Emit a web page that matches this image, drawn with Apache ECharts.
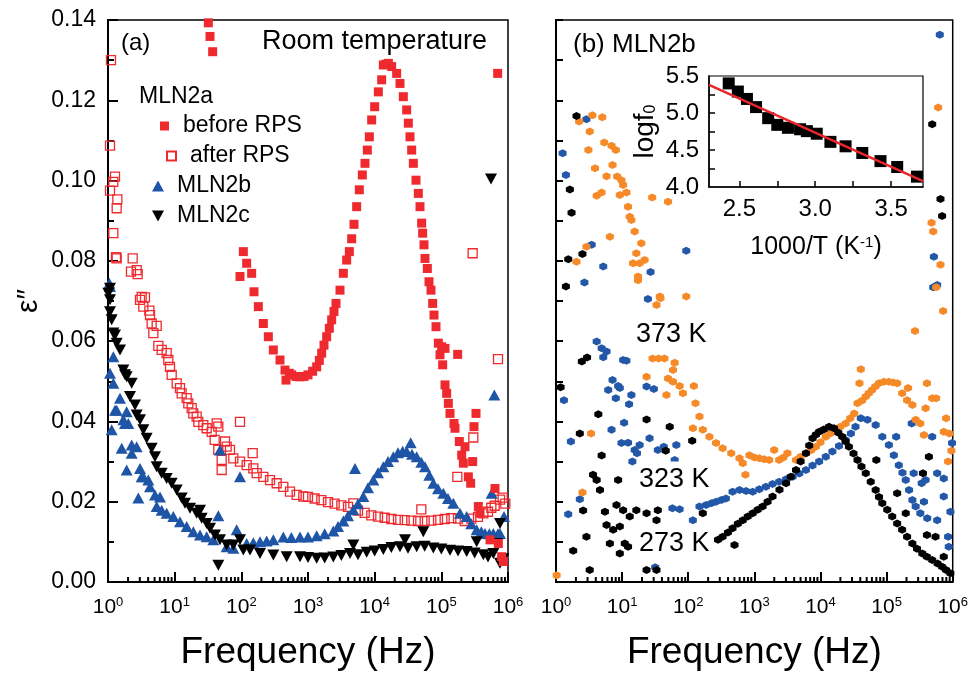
<!DOCTYPE html>
<html><head><meta charset="utf-8">
<script src="https://cdn.jsdelivr.net/npm/echarts@6/dist/echarts.min.js"></script>
<style>html,body{margin:0;padding:0;background:#fff}#c{width:971px;height:686px}</style>
</head><body><div id="c"></div>
<script>
// ---- data: [log10(frequency / Hz), epsilon''] ----
const beforeRPS = [[1.505,.1393],[1.53,.1359],[1.57,.1321],
[1.98,.0761],[2.03,.0823],[2.08,.0794],[2.155,.0769],[2.19,.0723],[2.255,.0686],[2.33,.0644],[2.405,.0611],[2.48,.0578],[2.58,.0553],[2.655,.0528],[2.67,.0503],[2.72,.052],[2.755,.0516],[2.82,.0512],[2.88,.0511],[2.94,.0512],[3.0,.0516],[3.07,.0525],[3.13,.0536],[3.17,.0552],[3.205,.057],[3.24,.059],[3.28,.0611],[3.32,.0632],[3.355,.0653],[3.39,.0674],[3.42,.0694],[3.48,.0727],[3.53,.0769],[3.58,.0802],[3.62,.0823],[3.655,.0855],[3.69,.0891],[3.73,.0935],[3.77,.0977],[3.815,.1014],[3.855,.1043],[3.89,.1076],[3.92,.1109],[3.955,.1151],[4.0,.1184],[4.055,.1221],[4.105,.1251],[4.13,.1288],[4.17,.129],[4.205,.1292],[4.255,.1284],[4.33,.1267],[4.38,.1242],[4.43,.1209],[4.48,.1176],[4.505,.1143],[4.53,.1109],[4.555,.1076],[4.58,.1043],[4.62,.1001],[4.655,.0968],[4.68,.0935],[4.705,.0894],[4.72,.0869],[4.74,.084],[4.755,.0806],[4.79,.0781],[4.815,.0748],[4.845,.0727],[4.87,.0694],[4.89,.0665],[4.92,.0636],[4.955,.0595],[4.98,.0566],[5.005,.0586],[5.055,.0582],[5.02,.0541],[5.055,.0491],[5.08,.047],[5.105,.0445],[5.13,.042],[5.19,.0395],[5.205,.0383],[5.245,.0567],[5.27,.035],[5.305,.0316],[5.33,.0296],[5.355,.0337],[5.405,.0262],[5.44,.0246],[5.47,.03],[5.49,.0387],[5.52,.042],[5.555,.0188],[5.58,.0171],[5.73,.0105],[5.805,.0233],[5.845,.1267],[5.855,.0096],[5.905,.0063],[5.93,.0051]];

const afterRPS = [[.045,.130],[.03,.1087],[.105,.101],[.08,.0997],[.03,.0975],[.14,.0953],[.13,.0931],[.08,.0869],[.12,.0809],[.13,.0806],[.37,.0806],[.345,.0773],[.43,.0777],[.445,.0767],[.505,.071],[.48,.0703],[.555,.0709],[.53,.0686],[.62,.0676],[.63,.0665],[.655,.0644],[.73,.0638],[.68,.062],[.755,.0588],[.805,.0578],[.88,.057],[.905,.0553],[.93,.0536],[.955,.0516],[1.03,.0495],[1.08,.0483],[1.105,.047],[1.18,.0458],[1.205,.0445],[1.255,.0433],[1.28,.042],[1.33,.0412],[1.355,.0399],[1.43,.0391],[1.48,.0383],[1.555,.0374],[1.63,.0395],[1.655,.0387],[1.6,.0354],[1.755,.035],[1.78,.0337],[1.655,.0329],[1.98,.0399],[1.705,.0304],[1.705,.0279],[1.83,.0329],[1.88,.0308],[1.98,.03],[2.08,.0291],[2.18,.0283],[2.17,.0321],[2.23,.0271],[2.33,.0262],[2.43,.0254],[2.53,.0246],[2.63,.0237],[2.73,.0225],[2.83,.0217],[2.93,.0213],[3.0,.0212],[3.1,.0208],[3.2,.0204],[3.3,.0199],[3.4,.0195],[3.5,.0191],[3.6,.0187],[3.68,.0196],[3.75,.0178],[3.85,.0172],[3.95,.0166],[4.05,.0163],[4.15,.016],[4.25,.0157],[4.35,.0155],[4.45,.0154],[4.55,.0153],[4.65,.0152],[4.7,.0181],[4.75,.0152],[4.85,.0153],[4.95,.0155],[5.05,.0157],[5.15,.0159],[5.24,.0262],[5.25,.0158],[5.35,.0152],[5.45,.0158],[5.47,.0819],[5.48,.036],[5.55,.0162],[5.63,.0171],[5.7,.0175],[5.75,.0185],[5.8,.019],[5.85,.0555],[5.88,.0205],[5.92,.021],[5.96,.0195]];

const mln2b = [[.02,.0744],[.03,.0736],[.08,.0561],[.03,.052],[.08,.0495],[.18,.0458],[.13,.0428],[.105,.0428],[.28,.0424],[.23,.0404],[.305,.0395],[.255,.0395],[.055,.0379],[.205,.0333],[.355,.0341],[.43,.0337],[.355,.0321],[.28,.0279],[.48,.0283],[.505,.0262],[.455,.0209],[.53,.0262],[.63,.0237],[.605,.0254],[.705,.0217],[.78,.0212],[.73,.0188],[.805,.0179],[.88,.0171],[.98,.0163],[1.08,.015],[1.18,.0138],[1.28,.0125],[1.38,.0117],[1.48,.0113],[1.58,.0105],[1.655,.0165],[1.68,.0329],[1.78,.0088],[1.88,.0084],[1.93,.013],[1.98,.0262],[2.08,.0096],[2.18,.0098],[2.28,.01],[2.38,.0102],[2.48,.0105],[2.63,.0112],[2.75,.0111],[2.88,.0112],[3.0,.0112],[3.13,.0115],[3.25,.012],[3.38,.0127],[3.45,.0138],[3.53,.0152],[3.6,.0165],[3.68,.018],[3.705,.0283],[3.75,.0195],[3.83,.0213],[3.9,.0235],[3.98,.0254],[4.05,.0272],[4.13,.0287],[4.2,.03],[4.28,.0312],[4.35,.0322],[4.42,.0326],[4.48,.0325],[4.54,.0347],[4.56,.0318],[4.63,.0312],[4.7,.0298],[4.755,.0287],[4.82,.0266],[4.88,.0246],[4.95,.0232],[5.03,.0221],[5.1,.0208],[5.18,.0196],[5.28,.0171],[5.38,.0163],[5.45,.0145],[5.53,.013],[5.6,.0125],[5.655,.0121],[5.72,.012],[5.755,.0221],[5.78,.0121],[5.795,.0466],[5.85,.012],[5.88,.0121],[5.94,.0163]];

const mln2c = [[.005,.0719],[.03,.0732],[.03,.0703],[.03,.0673],[.055,.0653],[.08,.062],[.105,.0615],[.13,.0595],[.18,.0578],[.23,.0528],[.255,.0516],[.28,.0511],[.355,.0495],[.33,.0462],[.405,.0441],[.43,.0416],[.48,.0404],[.53,.0379],[.58,.0358],[.655,.0333],[.705,.0312],[.73,.0287],[.805,.0271],[.88,.0258],[.955,.0246],[1.03,.0229],[1.105,.0209],[1.155,.0196],[1.23,.0184],[1.33,.0171],[1.38,.0179],[1.405,.0159],[1.48,.0146],[1.53,.0134],[1.605,.0117],[1.655,.0042],[1.68,.0105],[1.78,.0092],[1.88,.0092],[1.98,.0105],[2.03,.008],[2.13,.008],[2.28,.0071],[2.48,.0067],[2.68,.0063],[2.88,.0063],[3.0,.0061],[3.13,.0059],[3.25,.006],[3.38,.0062],[3.5,.0066],[3.63,.0071],[3.68,.0092],[3.75,.0068],[3.88,.0074],[4.0,.0077],[4.13,.0081],[4.25,.0086],[4.38,.0088],[4.455,.0105],[4.5,.0084],[4.63,.0088],[4.73,.0125],[4.75,.0089],[4.88,.0085],[5.0,.0082],[5.13,.0079],[5.25,.0077],[5.38,.0076],[5.5,.0072],[5.53,.01],[5.63,.0068],[5.7,.0062],[5.745,.1004],[5.78,.0071],[5.83,.0096],[5.88,.0146],[5.88,.0047],[5.93,.0058]];

const k273 = [[.31,.1161],[.21,.0978],[.235,.092],[.185,.0804],[.40,.0817],[.15,.0736],[.39,.0549],[.47,.0559],[.07,.0485],[.64,.0418],[.36,.037],[1.37,.0405],[1.72,.0387],[.69,.0315],[2.06,.0352],[1.66,.0327],[.56,.0267],[.615,.0254],[.665,.0229],[.94,.0254],[.41,.0178],[.74,.0175],[.915,.0192],[1.015,.0179],[1.115,.0163],[1.215,.0179],[1.37,.0171],[1.54,.0179],[1.52,.0154],[.765,.0142],[.865,.013],[.965,.0138],[.815,.0096],[1.04,.0096],[.965,.0071],[1.09,.0088],[.46,.0113],[.26,.0078],[.51,.003],[1.37,.003],[1.52,.003],[2.22,.0171],[2.70,.0092],
[2.45,.0105],[2.52,.0113],[2.6,.0123],[2.67,.0134],[2.75,.0145],[2.825,.0154],[2.9,.0163],[2.975,.0171],[3.05,.018],[3.125,.0188],[3.2,.02],[3.275,.0213],[3.38,.023],[3.48,.0246],[3.55,.0262],[3.63,.0279],[3.7,.03],[3.78,.0321],[3.83,.034],[3.88,.0358],[3.93,.0367],[3.98,.0374],[4.05,.038],[4.13,.0387],[4.205,.0383],[4.27,.0372],[4.33,.0362],[4.38,.035],[4.43,.0337],[4.5,.032],[4.56,.0304],[4.62,.0288],[4.685,.0271],[4.76,.025],[4.835,.0229],[4.885,.0212],[4.935,.0196],[5.01,.018],[5.085,.0163],[5.16,.0146],[5.235,.013],[5.31,.0113],[5.39,.0096],[5.46,.0083],[5.54,.0071],[5.61,.0063],[5.69,.0055],[5.77,.0046],[5.84,.0038],[5.9,.003],[5.965,.0022],
[4.845,.0304],[5.16,.0221],[5.29,.0171],[5.64,.0312],[5.55,.0271],[5.61,.0117],[5.74,.0113],[5.865,.0063],[5.69,.114],[5.815,.0954],[5.84,.0912]];

const k323 = [[5.805,.1363],[.10,.1068],[.15,.1014],[.46,.1153],[.54,.084],[.43,.0746],[.715,.0786],[1.97,.0825],[1.43,.0772],[1.39,.0705],[5.715,.081],[5.705,.0734],[5.765,.074],[.615,.0599],[.69,.0582],[.765,.0574],[.715,.056],[1.015,.0553],[1.065,.0551],[.855,.0503],[.94,.0488],[.965,.0483],[.79,.0478],[.905,.0458],[1.14,.0466],[1.105,.0443],[1.37,.0487],[1.48,.0481],[.12,.0453],[1.03,.0397],[.84,.0379],[.225,.035],[.99,.0346],[1.09,.0347],[1.265,.0341],[1.19,.0329],[1.415,.0358],[1.54,.0329],[1.63,.0337],[1.82,.0341],[1.155,.03],[1.795,.0304],[1.225,.0321],[.36,.0206],[.185,.0169],[1.76,.0184],[1.87,.0181],[2.07,.0154],[1.5,.0037],[5.99,.0346],
[2.17,.0188],[2.27,.0192],[2.35,.0196],[2.42,.02],[2.5,.0204],[2.57,.0208],[2.67,.0225],[2.775,.0229],[2.875,.0227],[2.975,.0225],[3.075,.0231],[3.175,.0237],[3.275,.0244],[3.375,.025],[3.48,.0256],[3.58,.0262],[3.68,.027],[3.78,.0279],[3.88,.029],[3.98,.03],[4.08,.0312],[4.18,.0325],[4.28,.0339],[4.38,.0354],[4.46,.037],[4.53,.0387],[4.61,.0408],[4.71,.0404],[4.835,.0391],[4.935,.0362],[5.035,.0341],[5.145,.0362],[5.11,.0316],[5.185,.0291],[5.24,.0272],[5.29,.0254],[5.34,.0229],[5.39,.0204],[5.44,.0188],[5.51,.0171],[5.615,.0159],[5.565,.02],[5.38,.0395],[5.41,.0271],[5.59,.0254],[5.53,.0246],[5.765,.0271],[5.865,.0258],[5.865,.0213],[5.765,.0154],[5.965,.0175],[5.93,.0113],[5.94,.0088],[5.69,.0362]];

const k373 = [[.35,.1147],[.55,.1163],[.70,.1158],[.51,.1122],[.49,.1076],[.73,.1095],[.84,.1087],[.905,.1076],[.855,.1039],[.59,.1031],[.765,.1011],[.925,.101],[.99,.1001],[1.015,.0989],[.615,.0962],[.69,.097],[.965,.0964],[1.065,.097],[1.09,.0935],[1.115,.091],[1.14,.0902],[1.19,.0873],[.815,.086],[1.29,.0844],[1.215,.0819],[1.165,.0794],[1.265,.0794],[1.34,.0802],[1.24,.0761],[.31,.0798],[.46,.0835],[1.455,.0958],[1.695,.0947],[1.57,.0711],[1.97,.0711],[1.52,.069],[1.58,.0707],[1.24,.0752],[5.68,.0895],[5.705,.0873],[5.78,.1182],[5.815,.079],[5.75,.0734],[5.855,.0675],[5.43,.0625],[.53,.037],[.40,.0223],[.01,.0017],
[1.46,.0557],[1.55,.0557],[1.64,.0557],[1.795,.0546],[1.37,.0511],[1.695,.0507],[1.77,.0528],[1.77,.0499],[1.87,.0488],[1.92,.047],[2.085,.0488],[1.67,.0466],[2.11,.0445],[2.17,.0412],[2.07,.0383],[2.22,.0379],[2.32,.0362],[2.42,.0346],[2.52,.0333],[2.65,.0321],[2.775,.0308],[2.825,.0296],[2.865,.0267],[2.925,.0316],[3.0,.031],[3.075,.0308],[3.15,.0306],[3.225,.0304],[3.30,.0329],[3.375,.0304],[3.44,.031],[3.50,.0321],[3.63,.0304],[3.7,.0312],[3.78,.0321],[3.86,.0328],[3.93,.0337],[4.0,.0348],[4.08,.0362],[4.15,.037],[4.23,.0379],[4.3,.0387],[4.38,.0395],[4.45,.0408],[4.51,.042],[4.56,.0445],[4.61,.053],[4.59,.0495],[4.63,.0452],[4.685,.0462],[4.73,.047],[4.78,.0478],[4.83,.0487],[4.885,.0495],[4.96,.0499],[5.035,.0499],[5.1,.0497],[5.16,.0495],[5.235,.047],[5.325,.0483],[5.31,.0453],[5.39,.0441],[5.61,.0495],[5.59,.0433],[5.69,.0458],[5.75,.0458],[5.44,.0404],[5.51,.0395],[5.565,.0366],[5.90,.0408],[5.865,.0374],[5.95,.037],[5.98,.0327],[5.93,.03]];

// inset: 1000/T (K^-1) vs log f0
const insetInvT = [2.43,2.49,2.55,2.61,2.69,2.75,2.82,2.90,2.945,3.01,3.10,3.20,3.31,3.43,3.54,3.67];
const insetLogF0 = [5.40,5.29,5.19,5.08,4.93,4.84,4.80,4.78,4.755,4.72,4.61,4.55,4.46,4.35,4.27,4.14];
const fitInvT = [2.3, 3.71];
const fitLogF0 = [5.38, 4.08];

const xTickExponents = [0,1,2,3,4,5,6];

// ---- build ----
const FF = 'Liberation Sans, Arial, Helvetica, sans-serif';
const toHz = arr => arr.map(p => [Math.pow(10, p[0]), p[1]]);
const minorFreqs = [];
for (let n = xTickExponents[0]; n < xTickExponents[xTickExponents.length-1]; n++)
  for (let k = 2; k <= 9; k++) minorFreqs.push([k * Math.pow(10, n), 0]);

const RED = '#ee2a2e', BLUE = '#1f55a6', BLUE2 = '#2358a8', ORANGE = '#f68a28';
const hexPath = 'path://M5,0 L9.33,2.5 L9.33,7.5 L5,10 L0.67,7.5 L0.67,2.5 Z';
const downTri = 'path://M0,0 L10,0 L5,9 Z';

function logXAxis(gridIndex) {
  return {
    type: 'log', logBase: 10, gridIndex, min: 1, max: 1e6,
    axisLine: { onZero: false, lineStyle: { color: '#000', width: 2 } },
    axisTick: { show: true, inside: true, length: 10, lineStyle: { color: '#000', width: 2 } },
    minorTick: { show: false }, splitLine: { show: false },
    axisLabel: {
      margin: 14, color: '#000',
      formatter: v => '{b|10}{s|' + Math.round(Math.log10(v)) + '}',
      rich: { b: { fontSize: 21, fontFamily: FF, color: '#000', lineHeight: 22 },
              s: { fontSize: 13, fontFamily: FF, color: '#000', verticalAlign: 'top', lineHeight: 14 } }
    },
    name: 'Frequency (Hz)', nameLocation: 'middle', nameGap: 52,
    nameTextStyle: { fontSize: 37, fontFamily: FF, color: '#000' }
  };
}
// minor (2..9 x 10^n) tick marks along the frequency axis, placed through the axis scale
function tickSeries(idx, data, len) {
  return {
    type: 'scatter', xAxisIndex: idx, yAxisIndex: idx, silent: true, z: 6, clip: false,
    data, symbol: 'rect', symbolSize: [2, len], symbolOffset: [0, -len / 2],
    itemStyle: { color: '#000', opacity: 1 }, emphasis: { disabled: true }, tooltip: { show: false }
  };
}
function legendOne(name, left, top, w, h, pad) {
  return { data: [name], left, top, orient: 'vertical', padding: 0, itemWidth: w, itemHeight: h,
    selectedMode: false,
    textStyle: { fontSize: 23, fontFamily: FF, color: '#000', padding: [0, 0, 0, pad], lineHeight: 24 } };
}
function label(text, x, y, size, bg) {
  const el = { type: 'text', x, y, z: 100,
    style: { text, fontSize: size, fontFamily: FF, fill: '#000', verticalAlign: 'middle' } };
  if (bg) { el.style.backgroundColor = '#fff'; el.style.padding = [4, 2, 6, 2]; }
  return el;
}
function scat(name, idx, data, symbol, size, itemStyle) {
  return { name, type: 'scatter', xAxisIndex: idx, yAxisIndex: idx, data: toHz(data),
    symbol, symbolSize: size, itemStyle: Object.assign({ opacity: 1 }, itemStyle),
    emphasis: { disabled: true } };
}

const option = {
  animation: false,
  backgroundColor: '#fff',
  grid: [
    { left: 108, top: 20, width: 400, height: 562, show: true, borderColor: '#000', borderWidth: 1.5 },
    { left: 556, top: 20, width: 398, height: 562, show: true, borderColor: '#000', borderWidth: 1.5 },
    { left: 709, top: 76, width: 214, height: 111, show: true, borderColor: '#000', borderWidth: 1.2 }
  ],
  xAxis: [
    logXAxis(0), logXAxis(1),
    { type: 'value', gridIndex: 2, min: 2.3, max: 3.71,
      axisLine: { onZero: false, lineStyle: { color: '#000', width: 1.5 } },
      axisTick: { inside: true, length: 6, customValues: [2.5, 2.75, 3, 3.25, 3.5], lineStyle: { color: '#000', width: 1.5 } },
      axisLabel: { customValues: [2.5, 3, 3.5], formatter: v => v.toFixed(1), fontSize: 24, fontFamily: FF, color: '#000', margin: 10 },
      splitLine: { show: false },
      name: '1000/T (K{sup|-1})', nameLocation: 'middle', nameGap: 48,
      nameTextStyle: { fontSize: 25, fontFamily: FF, color: '#000',
        rich: { sup: { fontSize: 15, fontFamily: FF, color: '#000', verticalAlign: 'top' } } } }
  ],
  yAxis: [
    { type: 'value', gridIndex: 0, min: 0, max: 0.14, interval: 0.02,
      axisLine: { show: true, lineStyle: { color: '#000', width: 2 } },
      axisTick: { show: true, inside: true, length: 10, lineStyle: { color: '#000', width: 2 } },
      minorTick: { show: true, splitNumber: 2, length: 6, lineStyle: { color: '#000', width: 2 } },
      splitLine: { show: false }, minorSplitLine: { show: false },
      axisLabel: { formatter: v => v.toFixed(2), fontSize: 23, fontFamily: FF, color: '#000', margin: 12 },
      name: 'ε\u2033', nameLocation: 'middle', nameRotate: 90, nameGap: 64,
      nameTextStyle: { fontSize: 30, fontFamily: FF, color: '#000' } },
    { type: 'value', gridIndex: 1, min: 0, max: 0.14, interval: 0.01,
      axisLine: { show: true, lineStyle: { color: '#000', width: 2 } },
      axisTick: { show: true, inside: true, length: 7, lineStyle: { color: '#000', width: 2 } },
      splitLine: { show: false }, axisLabel: { show: false } },
    { type: 'value', gridIndex: 2, min: 4, max: 5.5,
      axisLine: { show: true, lineStyle: { color: '#000', width: 1.5 } },
      axisTick: { inside: true, length: 6, customValues: [4.25, 4.5, 4.75, 5, 5.25], lineStyle: { color: '#000', width: 1.5 } },
      axisLabel: { customValues: [4, 4.5, 5, 5.5], formatter: v => v.toFixed(1), fontSize: 24, fontFamily: FF, color: '#000', margin: 10 },
      splitLine: { show: false },
      name: 'logf{sub|0}', nameLocation: 'middle', nameRotate: 90, nameGap: 50,
      nameTextStyle: { fontSize: 28, fontFamily: FF, color: '#000',
        rich: { sub: { fontSize: 16, fontFamily: FF, color: '#000', verticalAlign: 'bottom' } } } }
  ],
  legend: [
    legendOne('before RPS', 160, 114, 9, 9, 9),
    legendOne('after RPS', 166, 144, 9, 9, 9),
    legendOne('MLN2b', 152, 174, 12, 11, 8),
    legendOne('MLN2c', 152, 204, 12, 11, 8)
  ],
  series: [
    scat('after RPS', 0, afterRPS, 'rect', 9, { color: 'rgba(255,255,255,0)', borderColor: RED, borderWidth: 1.3 }),
    scat('MLN2b', 0, mln2b, 'triangle', [12, 11], { color: BLUE }),
    scat('MLN2c', 0, mln2c, downTri, [12, 11], { color: '#000' }),
    scat('before RPS', 0, beforeRPS, 'rect', 9, { color: RED }),
    scat('323 K', 1, k323, hexPath, 8, { color: BLUE2 }),
    scat('373 K', 1, k373, hexPath, 8, { color: ORANGE }),
    scat('273 K', 1, k273, hexPath, 8, { color: '#000' }),
    { name: 'logf0', type: 'scatter', xAxisIndex: 2, yAxisIndex: 2,
      data: insetInvT.map((t, i) => [t, insetLogF0[i]]),
      symbol: 'rect', symbolSize: 12, itemStyle: { color: '#000', opacity: 1 } },
    { name: 'fit', type: 'line', xAxisIndex: 2, yAxisIndex: 2,
      data: fitInvT.map((t, i) => [t, fitLogF0[i]]), symbol: 'none',
      lineStyle: { color: '#e8262b', width: 2.5 }, z: 4 },
    tickSeries(0, minorFreqs, 5), tickSeries(1, minorFreqs, 5)
  ],
  graphic: { elements: [
    label('(a)', 121, 43, 24),
    label('Room temperature', 262, 42, 27),
    label('MLN2a', 139, 97, 23),
    label('(b) MLN2b', 573, 45, 26),
    label('373 K', 634, 335, 27, true),
    label('323 K', 637, 480, 27, true),
    label('273 K', 637, 544, 27, true)
  ] }
};

const chart = echarts.init(document.getElementById('c'), null, { renderer: 'canvas' });
chart.setOption(option);
</script></body></html>
